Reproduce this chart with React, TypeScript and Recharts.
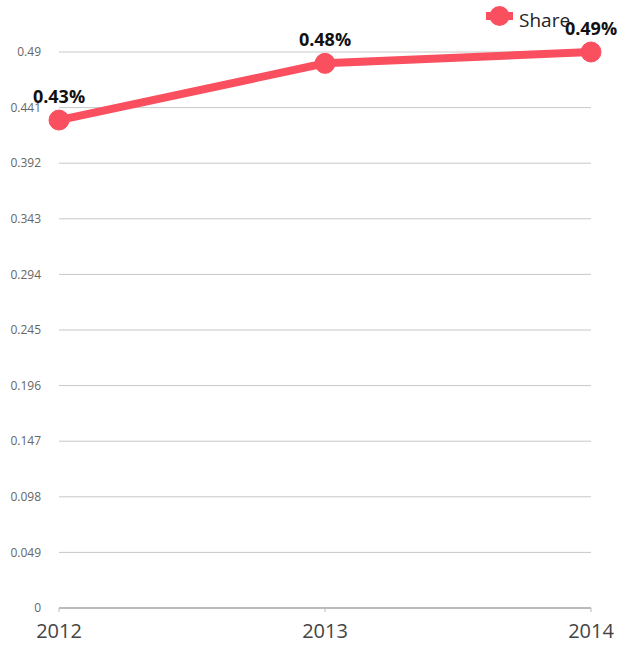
import React from "react";
import { LineChart, Line, XAxis, YAxis, CartesianGrid, Legend, LabelList } from "recharts";

const years = ["2012", "2013", "2014"];
const shareValues = [0.43, 0.48, 0.49];
const yTicks = [0, 0.049, 0.098, 0.147, 0.196, 0.245, 0.294, 0.343, 0.392, 0.441, 0.49];

const data = years.map((y, i) => ({ year: y, share: shareValues[i] }));

const COLOR = "#fa4f5f";
const FONT = "'Open Sans', sans-serif";

const LegendContent = () => (
  <svg width={100} height={34} style={{ display: "block", overflow: "visible" }}>
    <rect x={0} y={12} width={27} height={8} fill={COLOR} />
    <circle cx={13.5} cy={16} r={10} fill={COLOR} />
    <text x={33} y={27} fontFamily={FONT} fontSize={19} fill="#222">
      Share
    </text>
  </svg>
);

const renderLabel = (props: any) => {
  const { x, y, value } = props;
  return (
    <text x={x} y={y - 17} textAnchor="middle" fontFamily={FONT} fontSize={18} fontWeight="bold" fill="#111">
      {`${value}%`}
    </text>
  );
};

export default function App() {
  return (
    <div style={{ position: "absolute", left: 0, top: 0 }}>
      <LineChart width={619} height={650} data={data} margin={{ top: 52, right: 28, bottom: 0, left: 0 }}>
        <CartesianGrid horizontal vertical={false} stroke="#c8c8c8" />
        <XAxis
          dataKey="year"
          height={42}
          tickSize={4}
          tickMargin={12}
          stroke="#bbbbbb"
          strokeWidth={2}
          tick={{ fontFamily: FONT, fontSize: 20, fill: "#444" }}
          tickLine={{ stroke: "#bbbbbb", strokeWidth: 1 }}
        />
        <YAxis
          width={59}
          domain={[0, 0.49]}
          ticks={yTicks}
          axisLine={false}
          tickLine={false}
          tickSize={0}
          tickMargin={18}
          interval={0}
          tick={{ fontFamily: FONT, fontSize: 12, fill: "#666" }}
        />
        <Legend
          layout="vertical"
          align="center"
          verticalAlign="middle"
          wrapperStyle={{ top: 0, left: 486, width: 100, height: 34 }}
          content={<LegendContent />}
        />
        <Line
          type="linear"
          dataKey="share"
          name="Share"
          stroke={COLOR}
          strokeWidth={8}
          dot={{ r: 10, fill: COLOR, stroke: COLOR, strokeWidth: 1 }}
          activeDot={false}
          isAnimationActive={false}
        >
          <LabelList dataKey="share" content={renderLabel} />
        </Line>
      </LineChart>
    </div>
  );
}
